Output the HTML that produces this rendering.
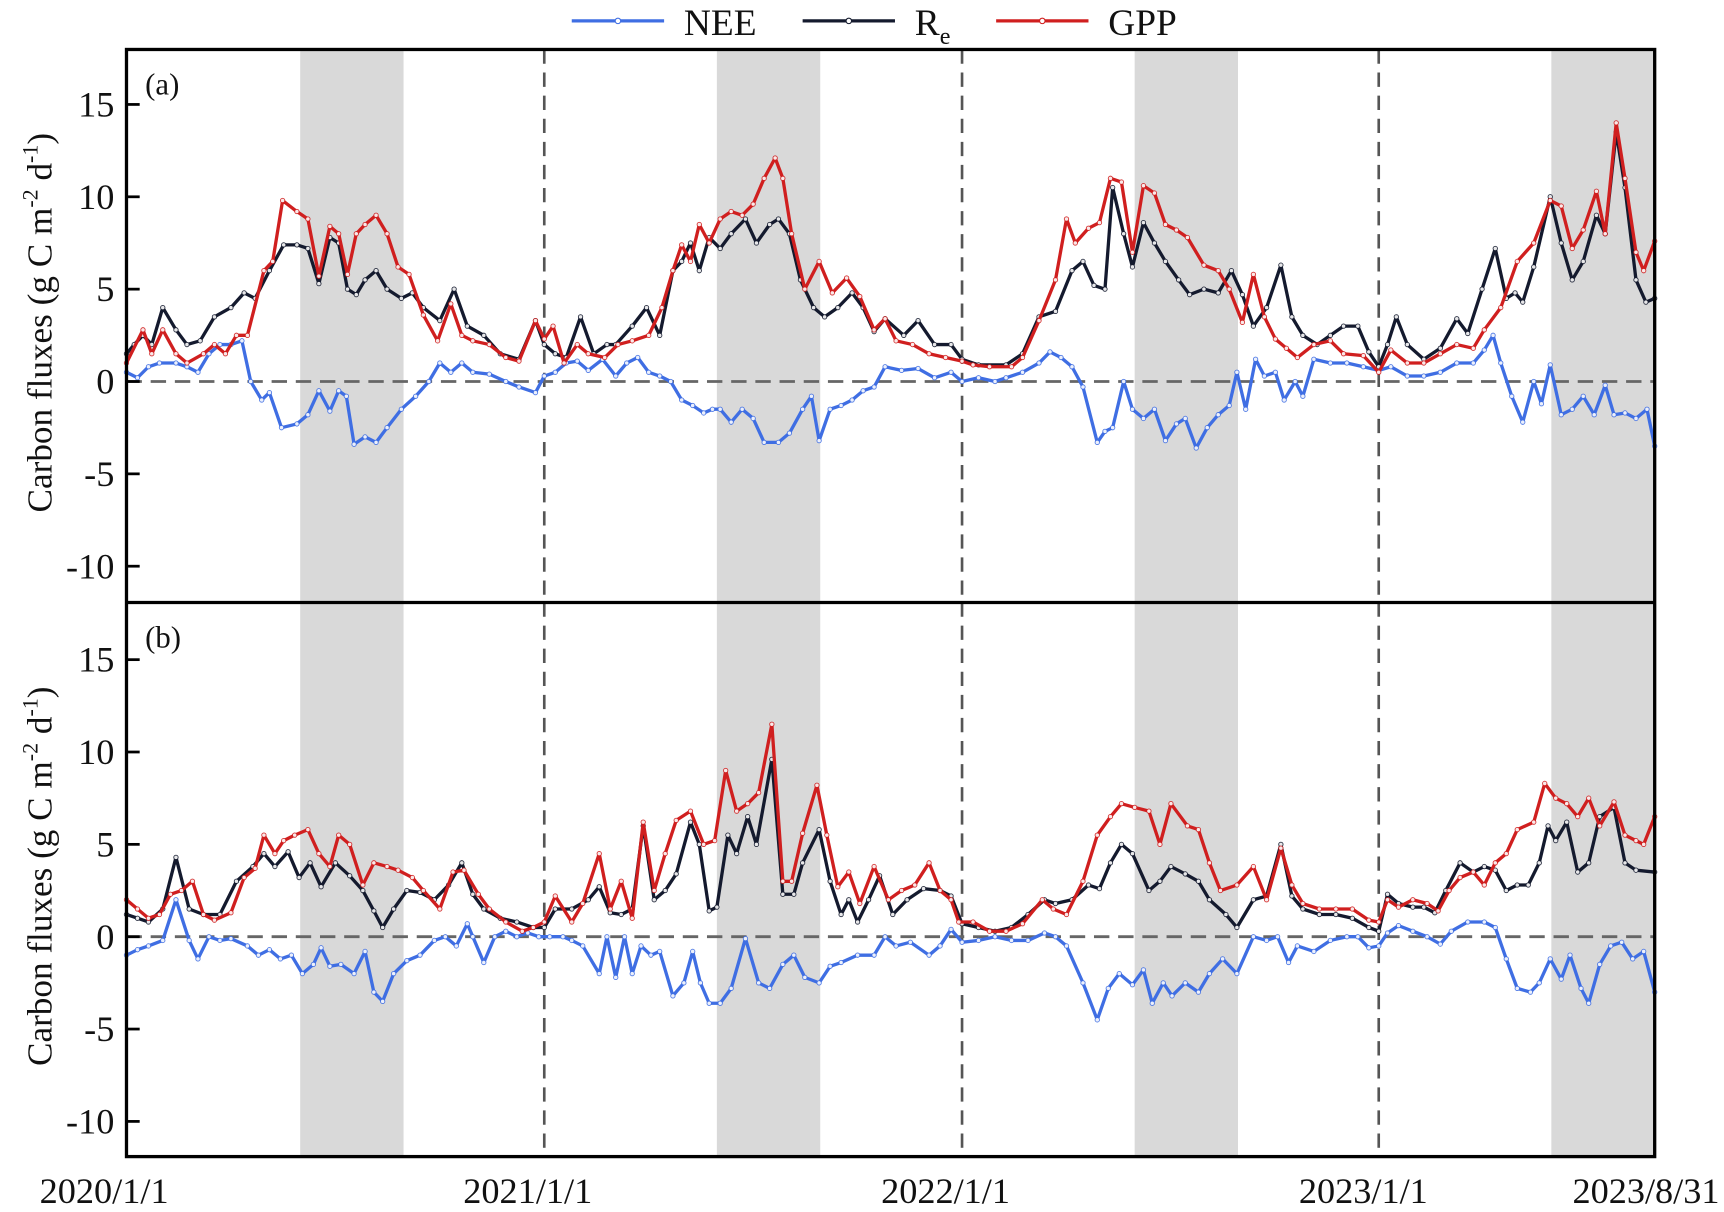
<!DOCTYPE html>
<html><head><meta charset="utf-8"><style>
html,body{margin:0;padding:0;background:#fff;}
svg{display:block;}
text{font-family:"Liberation Serif",serif;fill:#111;}
</style></head><body>
<svg id="s" width="1724" height="1212" viewBox="0 0 1568 1102.4" xmlns="http://www.w3.org/2000/svg"></svg>
<script>
const S=document.getElementById('s');
let h='';
const L=115,R=1505;
const panels=[{top:45,bot:548,zero:347},{top:548,bot:1052,zero:852}];
const k=16.8;
const C={nee:'#3f6ee3',re:'#141a2e',gpp:'#d01f1f'};
function P(s){return s.trim().split(/,\s*/).map(p=>p.split(':').map(Number));}
const D=[
{gpp:P(`115:1, 130:2.8, 138:1.5, 148:2.8, 160:1.5, 170:1, 185:1.5, 195:2, 205:1.5, 215:2.5, 225:2.5, 240:6, 248:6.5, 257:9.8, 270:9.2, 280:8.8, 290:5.7, 300:8.4, 308:8, 316:5.8, 324:8, 332:8.5, 342:9, 352:8, 362:6.2, 372:5.8, 385:3.6, 398:2.2, 410:4.2, 420:2.5, 430:2.2, 445:2, 460:1.3, 472:1.1, 487:3.3, 495:2.3, 503:3, 513:1, 525:2, 535:1.5, 550:1.3, 562:2, 575:2.2, 590:2.5, 602:4, 612:6, 620:7.4, 628:6.5, 636:8.5, 645:7.5, 655:8.8, 665:9.2, 675:9, 685:9.6, 695:11, 705:12.1, 712:11, 720:8, 732:5, 745:6.5, 757:4.8, 770:5.6, 782:4.6, 795:2.8, 805:3.4, 815:2.2, 830:2, 845:1.5, 860:1.3, 875:1.1, 885:0.9, 900:0.8, 920:0.8, 930:1.3, 945:3.3, 960:5.5, 970:8.8, 978:7.5, 990:8.3, 1000:8.6, 1010:11, 1020:10.8, 1030:7, 1040:10.6, 1050:10.2, 1060:8.5, 1070:8.2, 1080:7.8, 1095:6.3, 1108:6, 1118:5, 1130:3.2, 1140:5.8, 1150:3.5, 1160:2.3, 1170:1.8, 1180:1.3, 1195:2, 1210:2.2, 1222:1.5, 1240:1.4, 1254:0.5, 1265:1.7, 1280:1, 1295:1, 1310:1.5, 1325:2, 1340:1.8, 1350:2.8, 1365:4, 1380:6.5, 1395:7.5, 1410:9.8, 1420:9.5, 1430:7.2, 1440:8.2, 1452:10.3, 1460:8, 1470:14, 1478:11, 1488:7, 1495:6, 1505:7.6`),
re:P(`115:1.5, 122:2, 130:2.5, 138:2, 148:4, 160:2.8, 170:2, 182:2.2, 195:3.5, 210:4, 222:4.8, 232:4.5, 245:6, 258:7.4, 270:7.4, 280:7.2, 290:5.3, 300:7.8, 308:7.5, 316:5, 324:4.7, 332:5.5, 342:6, 352:5, 365:4.5, 375:4.8, 385:4, 400:3.3, 413:5, 425:3, 440:2.5, 455:1.5, 472:1.2, 487:3.3, 495:2, 505:1.5, 515:1.3, 528:3.5, 540:1.5, 552:2, 560:2, 575:3, 588:4, 600:2.5, 612:6, 620:6.5, 628:7.5, 636:6, 645:7.8, 655:7.2, 665:8, 678:8.8, 688:7.5, 700:8.5, 708:8.8, 718:8, 728:5.5, 740:4, 750:3.5, 762:4, 775:4.8, 785:4, 795:2.7, 805:3.4, 822:2.5, 835:3.3, 850:2, 865:2, 875:1.2, 890:0.9, 915:0.9, 930:1.5, 945:3.5, 960:3.8, 975:6, 985:6.5, 995:5.2, 1005:5, 1012:10.5, 1022:8, 1030:6.2, 1040:8.6, 1050:7.5, 1060:6.5, 1072:5.5, 1082:4.7, 1095:5, 1108:4.8, 1120:6, 1130:4.7, 1140:3, 1152:4, 1165:6.3, 1175:3.5, 1185:2.5, 1198:2, 1210:2.5, 1222:3, 1235:3, 1245:1.6, 1254:0.8, 1262:2, 1270:3.5, 1280:2, 1295:1.2, 1310:1.8, 1325:3.4, 1335:2.6, 1348:5, 1360:7.2, 1370:4.5, 1378:4.8, 1385:4.3, 1395:6.2, 1410:10, 1420:7.5, 1430:5.5, 1440:6.5, 1452:9, 1460:8, 1470:13.5, 1478:10.5, 1488:5.5, 1497:4.3, 1505:4.5`),
nee:P(`115:0.5, 125:0.2, 135:0.8, 145:1, 160:1, 170:0.8, 180:0.5, 190:1.5, 200:2, 210:2, 220:2.2, 228:0, 238:-1, 245:-0.6, 256:-2.5, 270:-2.3, 280:-1.8, 290:-0.5, 300:-1.6, 308:-0.5, 315:-0.8, 322:-3.4, 332:-3, 342:-3.3, 352:-2.5, 365:-1.5, 378:-0.8, 390:0, 400:1, 410:0.5, 420:1, 430:0.5, 445:0.4, 460:0, 472:-0.3, 487:-0.6, 495:0.3, 505:0.5, 515:1, 525:1.1, 535:0.6, 548:1.2, 560:0.3, 570:1, 580:1.3, 590:0.5, 600:0.3, 610:0, 620:-1, 630:-1.3, 640:-1.7, 648:-1.5, 655:-1.5, 665:-2.2, 675:-1.5, 685:-2, 695:-3.3, 708:-3.3, 718:-2.8, 730:-1.5, 738:-0.8, 745:-3.2, 755:-1.5, 765:-1.3, 775:-1, 785:-0.5, 795:-0.3, 805:0.8, 820:0.6, 835:0.7, 850:0.2, 865:0.5, 875:0, 890:0.2, 905:0, 915:0.2, 930:0.5, 945:1, 955:1.6, 965:1.3, 975:0.8, 985:-0.3, 998:-3.3, 1005:-2.7, 1012:-2.5, 1022:0, 1030:-1.5, 1040:-2, 1050:-1.5, 1060:-3.2, 1070:-2.3, 1078:-2, 1088:-3.6, 1098:-2.5, 1108:-1.8, 1118:-1.3, 1125:0.5, 1133:-1.5, 1142:1.2, 1150:0.3, 1160:0.5, 1168:-1, 1178:0, 1185:-0.8, 1195:1.2, 1210:1, 1225:1, 1240:0.8, 1254:0.6, 1265:0.8, 1280:0.3, 1295:0.3, 1310:0.5, 1325:1, 1340:1, 1350:1.7, 1358:2.5, 1365:1, 1375:-0.8, 1385:-2.2, 1395:0, 1402:-1.2, 1410:0.9, 1420:-1.8, 1430:-1.5, 1440:-0.8, 1450:-1.8, 1460:-0.2, 1468:-1.8, 1478:-1.7, 1488:-2, 1498:-1.5, 1505:-3.5`)},
{gpp:P(`115:2, 125:1.5, 135:1, 145:1.2, 155:2.3, 165:2.5, 175:3, 185:1.2, 195:0.9, 210:1.3, 222:3.2, 232:3.7, 240:5.5, 250:4.5, 258:5.2, 268:5.5, 280:5.8, 290:4.5, 300:3.8, 308:5.5, 318:5, 330:2.8, 340:4, 352:3.8, 362:3.6, 375:3.2, 385:2.5, 400:1.5, 412:3.5, 422:3.6, 435:2.3, 445:1.5, 460:0.8, 475:0.3, 485:0.5, 495:0.8, 505:2.2, 520:0.8, 530:1.8, 545:4.5, 555:1.5, 565:3, 575:1, 585:6.2, 595:2.5, 605:4.5, 615:6.3, 628:6.8, 640:5, 650:5.2, 660:9, 670:6.8, 680:7.2, 690:7.8, 702:11.5, 712:3, 720:3, 730:5.6, 743:8.2, 752:5.5, 762:2.7, 772:3.5, 782:1.8, 795:3.8, 808:2, 820:2.5, 832:2.8, 845:4, 855:2.5, 865:2, 872:0.8, 885:0.8, 900:0.3, 915:0.3, 930:0.7, 948:2, 958:1.5, 970:1.2, 985:3, 998:5.5, 1010:6.5, 1020:7.2, 1032:7, 1045:6.8, 1055:5, 1065:7.2, 1080:6, 1090:5.8, 1100:4, 1110:2.5, 1125:2.8, 1140:3.8, 1152:2, 1165:4.8, 1175:2.8, 1185:1.8, 1200:1.5, 1215:1.5, 1230:1.5, 1245:0.9, 1254:0.8, 1262:2, 1272:1.6, 1285:2, 1298:1.8, 1308:1.4, 1318:2.5, 1328:3.2, 1340:3.5, 1350:2.8, 1360:4, 1370:4.5, 1380:5.8, 1395:6.2, 1405:8.3, 1415:7.5, 1425:7.2, 1435:6.5, 1445:7.5, 1455:6, 1468:7.3, 1478:5.5, 1488:5.2, 1495:5, 1505:6.5`),
re:P(`115:1.2, 125:1, 135:0.8, 148:1.5, 160:4.3, 172:1.5, 185:1.2, 200:1.2, 215:3, 230:3.8, 240:4.5, 250:3.8, 262:4.6, 272:3.2, 282:4, 292:2.7, 305:4, 318:3.3, 330:2.5, 340:1.4, 348:0.5, 358:1.5, 370:2.5, 382:2.4, 395:2, 408:2.8, 420:4, 430:2.3, 440:1.5, 455:1, 470:0.8, 485:0.5, 495:0.5, 505:1.5, 520:1.5, 535:2, 545:2.7, 555:1.3, 565:1.2, 575:1.5, 585:6, 595:2, 605:2.5, 615:3.4, 628:6.2, 636:5, 645:1.4, 652:1.6, 662:5.5, 670:4.5, 680:6.5, 688:5, 702:9.6, 712:2.3, 722:2.3, 730:4, 745:5.8, 755:3, 765:1.2, 772:2, 780:0.8, 790:2, 800:3.3, 812:1.2, 825:2, 840:2.6, 855:2.5, 865:2.2, 875:0.7, 890:0.5, 905:0.3, 920:0.5, 935:1.2, 950:2, 960:1.8, 975:2, 990:2.8, 1000:2.6, 1010:4, 1020:5, 1030:4.5, 1045:2.5, 1055:3, 1065:3.8, 1078:3.4, 1090:3, 1100:2, 1115:1.2, 1125:0.5, 1140:2, 1152:2.2, 1165:5, 1175:2.2, 1185:1.5, 1200:1.2, 1215:1.2, 1230:1, 1245:0.5, 1254:0.3, 1262:2.3, 1272:1.8, 1285:1.6, 1295:1.6, 1305:1.3, 1315:2.5, 1328:4, 1340:3.5, 1350:3.8, 1360:3.6, 1370:2.5, 1380:2.8, 1390:2.8, 1400:4, 1408:6, 1415:5.2, 1425:6.2, 1435:3.5, 1445:4, 1455:6.5, 1468:7, 1478:4, 1488:3.6, 1505:3.5`),
nee:P(`115:-1, 125:-0.7, 135:-0.5, 148:-0.2, 160:2, 172:-0.2, 180:-1.2, 190:0, 200:-0.2, 210:-0.1, 225:-0.5, 235:-1, 245:-0.7, 255:-1.2, 265:-1, 275:-2, 285:-1.5, 292:-0.6, 300:-1.6, 310:-1.5, 322:-2, 332:-0.8, 340:-3, 348:-3.5, 358:-2, 370:-1.3, 382:-1, 395:-0.2, 405:0, 415:-0.5, 425:0.7, 430:0, 440:-1.4, 450:0, 460:0.3, 470:0, 480:0.2, 490:0, 500:0, 512:0, 520:-0.2, 530:-0.5, 545:-2, 552:0, 560:-2.2, 568:0, 575:-2, 583:-0.5, 592:-1, 600:-0.8, 612:-3.2, 622:-2.5, 630:-0.8, 637:-2.5, 645:-3.6, 655:-3.6, 665:-2.8, 678:-0.1, 690:-2.5, 700:-2.8, 712:-1.5, 722:-1, 732:-2.2, 745:-2.5, 755:-1.6, 765:-1.4, 780:-1, 795:-1, 805:0, 815:-0.5, 828:-0.3, 845:-1, 855:-0.5, 865:0.4, 875:-0.3, 890:-0.2, 905:0, 920:-0.2, 935:-0.2, 950:0.2, 960:0, 970:-0.5, 985:-2.5, 998:-4.5, 1008:-2.8, 1018:-2, 1030:-2.6, 1040:-1.8, 1048:-3.6, 1058:-2.5, 1066:-3.2, 1078:-2.5, 1090:-3, 1100:-2, 1112:-1.2, 1125:-2, 1140:0, 1152:-0.2, 1162:0, 1172:-1.4, 1180:-0.5, 1195:-0.8, 1210:-0.2, 1225:0, 1235:0, 1245:-0.6, 1254:-0.5, 1262:0.2, 1272:0.6, 1285:0.3, 1298:0, 1310:-0.4, 1320:0.3, 1335:0.8, 1350:0.8, 1360:0.5, 1370:-1.2, 1380:-2.8, 1392:-3, 1400:-2.5, 1410:-1.2, 1420:-2.3, 1428:-1, 1438:-2.8, 1445:-3.6, 1455:-1.5, 1465:-0.5, 1475:-0.3, 1485:-1.2, 1495:-0.8, 1505:-3`)}];
const labs=['(a)','(b)'];
panels.forEach((p,i)=>{
  [273,652,1032,1411].forEach(x=>{h+=`<rect x="${x}" y="${p.top}" width="${Math.min(94,R-x)}" height="${p.bot-p.top}" fill="#d9d9d9"/>`;});
  [495,875,1254].forEach(x=>{h+=`<line x1="${x}" y1="${p.top}" x2="${x}" y2="${p.bot}" stroke="#555" stroke-width="2.4" stroke-dasharray="13,8"/>`;});
  h+=`<line x1="${L}" y1="${p.zero}" x2="${R}" y2="${p.zero}" stroke="#666" stroke-width="2.6" stroke-dasharray="14,8"/>`;
  ['nee','re','gpp'].forEach(key=>{
    const pts=D[i][key].map(([x,v])=>[x,p.zero-v*k]);
    h+=`<polyline fill="none" stroke="${C[key]}" stroke-width="3" stroke-linejoin="round" points="${pts.map(q=>q[0]+','+q[1].toFixed(1)).join(' ')}"/>`;
    pts.forEach(q=>{h+=`<circle cx="${q[0]}" cy="${q[1].toFixed(1)}" r="2" fill="#fff" stroke="${C[key]}" stroke-width="0.8" opacity="0.9"/>`;});
  });
  for(let v=-10;v<=15;v+=5){const y=p.zero-v*k;
    h+=`<line x1="${L}" y1="${y}" x2="${L+12}" y2="${y}" stroke="#000" stroke-width="2.5"/>`;
    h+=`<text x="104" y="${y+11}" font-size="33" text-anchor="end">${v}</text>`;}
  h+=`<text x="132" y="${p.top+41}" font-size="28">${labs[i]}</text>`;
  const cy=(p.top+p.bot)/2-3;
  h+=`<text transform="translate(47,${cy}) rotate(-90)" font-size="32" text-anchor="middle">Carbon fluxes (g C m<tspan font-size="20" dy="-13">-2</tspan><tspan dy="13"> d</tspan><tspan font-size="20" dy="-13">-1</tspan><tspan dy="13">)</tspan></text>`;
});
h+=`<rect x="${L}" y="45" width="${R-L}" height="1007" fill="none" stroke="#000" stroke-width="3"/>`;
h+=`<line x1="${L}" y1="548" x2="${R}" y2="548" stroke="#000" stroke-width="3"/>`;
h+=`<text x="36" y="1094" font-size="33">2020/1/1</text>`;
h+=`<text x="480" y="1094" font-size="33" text-anchor="middle">2021/1/1</text>`;
h+=`<text x="860" y="1094" font-size="33" text-anchor="middle">2022/1/1</text>`;
h+=`<text x="1240" y="1094" font-size="33" text-anchor="middle">2023/1/1</text>`;
h+=`<text x="1564" y="1094" font-size="33" text-anchor="end">2023/8/31</text>`;
function leg(x,c,label,sub){
  h+=`<line x1="${x}" y1="19" x2="${x+84}" y2="19" stroke="${c}" stroke-width="3"/><circle cx="${x+42}" cy="19" r="2.5" fill="#fff" stroke="${c}"/>`;
  h+=`<text x="${x+102}" y="32" font-size="34">${label}${sub?'<tspan font-size="22" dy="8">e</tspan>':''}</text>`;
}
leg(520,C.nee,'NEE');leg(730,C.re,'R',true);leg(906,C.gpp,'GPP');
S.innerHTML=h;
</script>
</body></html>
